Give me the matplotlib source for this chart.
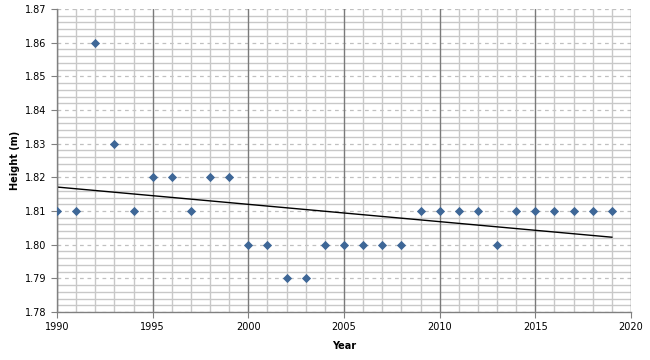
import matplotlib
matplotlib.use("Agg")
import matplotlib.pyplot as plt
import numpy as np
from matplotlib.ticker import MultipleLocator, FormatStrFormatter

years = list(range(1990, 2020))
heights = [1.81, 1.81, 1.86, 1.83, 1.81, 1.82, 1.82, 1.81, 1.82, 1.82,
           1.80, 1.80, 1.79, 1.79, 1.80, 1.80, 1.80, 1.80, 1.80, 1.81,
           1.81, 1.81, 1.81, 1.80, 1.81, 1.81, 1.81, 1.81, 1.81, 1.81]
x_label = "Year"
y_label = "Height (m)"

fig = plt.figure(figsize=(6.5, 3.6), dpi=100)
ax = fig.add_axes([0.0877, 0.1333, 0.8831, 0.8417])

ax.set_xlim(1990, 2020)
ax.set_ylim(1.78, 1.87)
ax.xaxis.set_major_locator(MultipleLocator(5))
ax.xaxis.set_minor_locator(MultipleLocator(1))
ax.yaxis.set_major_locator(MultipleLocator(0.01))
ax.yaxis.set_minor_locator(MultipleLocator(0.002))
ax.yaxis.set_major_formatter(FormatStrFormatter("%.2f"))

ax.grid(which="minor", axis="both", color="#c8c8c8", linewidth=1.0, linestyle="-")
ax.grid(which="major", axis="x", color="#7a7a7a", linewidth=1.0, linestyle="-")
ax.grid(which="major", axis="y", color="#c0c0c0", linewidth=0.9, linestyle=(0, (3, 3)))
ax.set_axisbelow(True)
ax.yaxis.set_zorder(0.4)
ax.xaxis.set_zorder(0.5)

for s in ["top", "right"]:
    ax.spines[s].set_visible(False)
for s in ["left", "bottom"]:
    ax.spines[s].set_color("#808080")
    ax.spines[s].set_linewidth(1.0)
    ax.spines[s].set_zorder(2.5)

ax.tick_params(which="major", direction="out", length=4, color="#808080",
               labelsize=7, labelcolor="#000000")
ax.tick_params(which="minor", length=0)

ax.scatter(years, heights, marker="D", s=22, color="#3e6797", zorder=3, linewidths=0)

coef = np.polyfit(years, heights, 1)
xs = np.array([years[0], years[-1]])
ax.plot(xs, np.polyval(coef, xs), color="#000000", linewidth=1.0, zorder=2)

ax.set_xlabel(x_label, fontsize=7, fontweight="bold", labelpad=6)
ax.set_ylabel(y_label, fontsize=7, fontweight="bold", labelpad=4)

fig.savefig("out.png", dpi=100)
